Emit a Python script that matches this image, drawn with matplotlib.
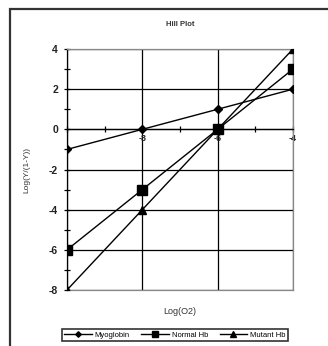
import matplotlib.pyplot as plt
from matplotlib.patches import Rectangle

plt.rcParams['font.family'] = ['Liberation Sans', 'DejaVu Sans']
plt.rcParams['axes.unicode_minus'] = False

# Hill plot data
log_o2 = [-10, -8, -6, -4]
myoglobin = [-1, 0, 1, 2]
normal_hb = [-6, -3, 0, 3]
mutant_hb = [-8, -4, 0, 4]

W, H = 328, 346
fig = plt.figure(figsize=(W / 100, H / 100), dpi=100)
fig.patches.append(Rectangle((10 / W, -0.1), 1.2, 1 - 8.5 / H + 0.1,
                             transform=fig.transFigure, fill=False,
                             edgecolor='#333333', linewidth=1.6))

ax = fig.add_axes([67 / W, 1 - 290 / H, 226 / W, 241 / H])

ax.plot(log_o2, myoglobin, color='black', lw=1, marker='D', ms=4, label='Myoglobin', zorder=3)
ax.plot(log_o2, normal_hb, color='black', lw=1, marker='s', ms=6.5, label='Normal Hb', zorder=3)
ax.plot(log_o2, mutant_hb, color='black', lw=1, marker='^', ms=6, label='Mutant Hb', zorder=3)

ax.set_xlim(-10, -4)
ax.set_ylim(-8, 4)
ax.set_xticks([-10, -8, -6, -4])
ax.set_xticks([-9, -7, -5], minor=True)
ax.set_xticklabels(['', '-8', '-6', '-4'])
ax.set_yticks([-8, -6, -4, -2, 0, 2, 4])
ax.set_yticks([-7, -5, -3, -1, 1, 3], minor=True)
ax.grid(True, which='major', color='black', lw=0.9)

for s in ['top', 'right', 'bottom']:
    ax.spines[s].set_color('#888888')
    ax.spines[s].set_linewidth(0.9)
ax.spines['bottom'].set_position(('data', 0))
ax.spines['bottom'].set_color('black')
ax.spines['left'].set_linewidth(0.9)
ax.plot([-10, -4], [-8, -8], color='#888888', lw=0.9, clip_on=False)

ax.tick_params(axis='both', which='both', direction='inout', color='black', width=0.9)
ax.tick_params(axis='both', which='major', length=5)
ax.tick_params(axis='both', which='minor', length=4)
ax.tick_params(axis='y', labelsize=7.5, pad=4, labelcolor='#222222')
ax.tick_params(axis='x', labelsize=6.5, pad=1, labelcolor='#222222')
for t in ax.get_yticklabels() + ax.get_xticklabels():
    t.set_fontweight('bold')

fig.text(0.5 * (67 + 293) / W, 1 - 25 / H, 'Hill Plot', ha='center', va='center',
         fontsize=5.5, fontweight='bold', color='#333333')
fig.text(27 / W, 1 - 170 / H, 'Log(Y/(1-Y))', rotation=90, ha='center', va='center',
         fontsize=6, color='#333333')
fig.text(0.5 * (67 + 293) / W, 1 - 312 / H, 'Log(O2)', ha='center', va='center',
         fontsize=6.5, color='#333333')

leg = fig.legend(loc='center', bbox_to_anchor=(175 / W, 1 - 335 / H), ncol=3,
                 fontsize=5.5, frameon=True, fancybox=False, edgecolor='black',
                 handlelength=3.6, handletextpad=0.4, columnspacing=1.5,
                 borderpad=0.35, markerscale=0.7)
leg.get_frame().set_linewidth(1.2)

fig.savefig('out.png', dpi=100)
